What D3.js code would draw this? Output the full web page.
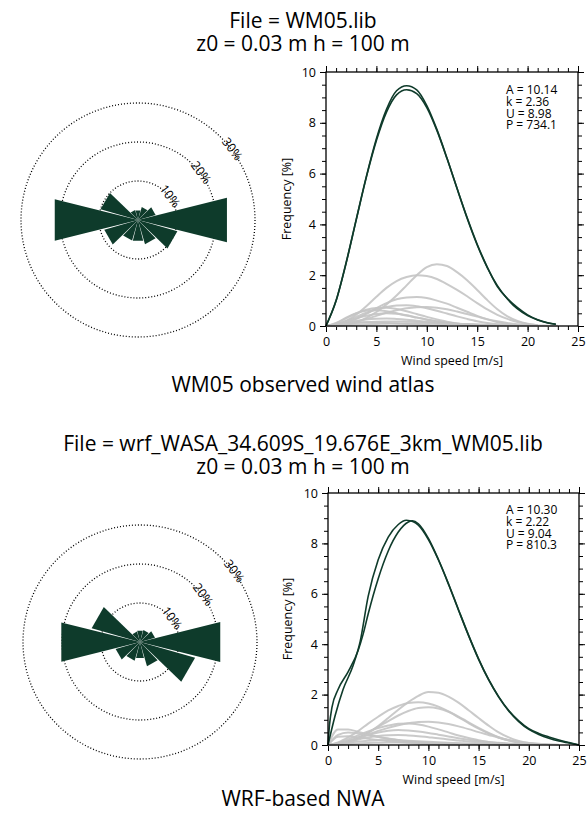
<!DOCTYPE html>
<html lang="en">
<head>
<meta charset="utf-8">
<title>WM05 observed wind atlas vs WRF-based NWA</title>
<script src="https://cdn.jsdelivr.net/npm/d3@7"></script>
<style>
  body { margin: 0; background: #fff; font-family: 'Open Sans', sans-serif; }
  svg { display: block; }
  text { fill: #000; font-family: 'Open Sans', sans-serif; }
  text.title { font-size: 21px; }
  text.small, .axis text { font-size: 12.5px; }
  text.stat { font-size: 12px; }
  .axis line { stroke: #000; stroke-width: 1; }
  .frame { fill: none; stroke: #000; stroke-width: 1.3; }
  .ring { fill: none; stroke: #000; stroke-width: 1.3; stroke-dasharray: 1 2; }
  .sector { fill: #0e3b2b; stroke: none; }
  .grey { fill: none; stroke: #c4c4c4; stroke-width: 2; stroke-opacity: 0.9; }
  .dark { fill: none; stroke: #0f3b2b; stroke-width: 1.6; }
</style>
</head>
<body>
<svg id="chart" width="588" height="813"></svg>
<script>
// ---- data ----
const directions = [0, 30, 60, 90, 120, 150, 180, 210, 240, 270, 300, 330];
const roseTop    = [2.5, 3.5, 4.7, 23.5, 10.5, 6.5, 5.5, 5.5, 9, 22, 10, 2.7];
const roseBottom = [3, 3.2, 4, 21.2, 14.7, 6.5, 4.2, 5, 6.5, 20.8, 12.9, 2.8];
const ringLevels = [10, 20, 30];

const speedTicks = [0, 5, 10, 15, 20, 25];
const freqTicks = [0, 2, 4, 6, 8, 10];
const speeds = [0, 1, 2, 3, 4, 5, 6, 7, 8, 9, 10, 11, 12, 13, 14, 15, 16, 17, 18, 19, 20, 21, 22, 23, 24, 25];

const statsTop = ['A = 10.14', 'k = 2.36', 'U = 8.98', 'P = 734.1'];
const statsBottom = ['A = 10.30', 'k = 2.22', 'U = 9.04', 'P = 810.3'];

// dark curves: [speed, frequency]
const fitTop = [[0,0],[1,0.99],[2,2.5],[3,4.2],[4,5.88],[5,7.37],[6,8.53],[7,9.26],[8,9.46],[9,9.3],[10,8.68],[11,7.74],[12,6.61],[13,5.41],[14,4.24],[15,3.19],[16,2.3],[17,1.59],[18,1.06],[19,0.67],[20,0.41],[21,0.24],[22,0.12],[22.8,0.07]];
const totalTop = [[0,0],[1,1.0],[2,2.48],[3,4.18],[4,5.85],[5,7.3],[6,8.42],[7,9.1],[8,9.3],[9,9.15],[10,8.6],[11,7.7],[12,6.6],[13,5.42],[14,4.27],[15,3.22],[16,2.32],[17,1.55],[18,1.08],[19,0.72],[20,0.44],[21,0.25],[22,0.13],[22.8,0.07]];
const fitBottom = [[0,0],[0.7,1.15],[1.5,2.2],[2.5,3.15],[3.2,4.1],[4,5.9],[5,7.35],[6,8.25],[7,8.75],[7.8,8.92],[8.5,8.86],[9,8.72],[10,8.15],[11,7.34],[12,6.38],[13,5.35],[14,4.34],[15,3.4],[16,2.58],[17,1.9],[18,1.35],[19,0.93],[20,0.62],[21,0.42],[22,0.27],[23,0.16],[24,0.08],[25,0]];
const totalBottom = [[0,0],[0.15,0.8],[0.4,1.5],[1,2.2],[2,2.9],[3,3.75],[3.5,4.4],[4,5.2],[5,6.6],[6,7.7],[7,8.45],[8,8.85],[8.4,8.9],[9,8.78],[10,8.2],[11,7.36],[12,6.4],[13,5.37],[14,4.36],[15,3.42],[16,2.6],[17,1.92],[18,1.37],[19,0.96],[20,0.65],[21,0.46],[22,0.32],[23,0.2],[24,0.1],[25,0]];

// grey sector curves: frequency at speeds[0], speeds[1], ...
const sectorsTop = [
  [0, 0.01, 0.06, 0.15, 0.32, 0.55, 0.85, 1.2, 1.6, 2.0, 2.32, 2.43, 2.36, 2.12, 1.8, 1.42, 1.02, 0.66, 0.38, 0.2, 0.09, 0.03],
  [0, 0.05, 0.2, 0.45, 0.78, 1.15, 1.5, 1.77, 1.93, 2.0, 1.97, 1.85, 1.65, 1.42, 1.17, 0.9, 0.65, 0.44, 0.28, 0.16, 0.08, 0.03],
  [0, 0.03, 0.12, 0.28, 0.48, 0.7, 0.9, 1.05, 1.12, 1.14, 1.1, 1.0, 0.88, 0.72, 0.56, 0.4, 0.26, 0.15, 0.08, 0.03],
  [0, 0.06, 0.2, 0.36, 0.52, 0.65, 0.75, 0.81, 0.82, 0.78, 0.7, 0.6, 0.49, 0.38, 0.28, 0.19, 0.12, 0.07, 0.03],
  [0, 0.02, 0.08, 0.17, 0.28, 0.4, 0.52, 0.62, 0.7, 0.74, 0.75, 0.72, 0.66, 0.57, 0.47, 0.37, 0.27, 0.19, 0.12, 0.07, 0.04, 0.02],
  [0, 0.1, 0.3, 0.5, 0.64, 0.71, 0.72, 0.67, 0.58, 0.47, 0.36, 0.26, 0.17, 0.1, 0.06, 0.03],
  [0, 0.12, 0.33, 0.5, 0.6, 0.62, 0.58, 0.5, 0.41, 0.33, 0.25, 0.19, 0.14, 0.1, 0.07, 0.05, 0.03, 0.02],
  [0, 0.06, 0.18, 0.3, 0.4, 0.47, 0.5, 0.48, 0.42, 0.34, 0.26, 0.18, 0.12, 0.07, 0.04, 0.02],
  [0, 0.05, 0.13, 0.21, 0.26, 0.29, 0.3, 0.28, 0.25, 0.21, 0.17, 0.13, 0.1, 0.07, 0.05, 0.03, 0.02],
  [0, 0.03, 0.08, 0.12, 0.15, 0.17, 0.18, 0.18, 0.17, 0.16, 0.14, 0.12, 0.1, 0.08, 0.07, 0.05, 0.04, 0.03, 0.02, 0.01],
  [0, 0.04, 0.1, 0.14, 0.15, 0.14, 0.12, 0.1, 0.08, 0.06, 0.04, 0.03, 0.02],
  [0, 0.01, 0.03, 0.05, 0.07, 0.08, 0.09, 0.1, 0.1, 0.1, 0.1, 0.09, 0.09, 0.08, 0.07, 0.06, 0.05, 0.05, 0.04, 0.03, 0.02, 0.02, 0.01, 0.01]
];
const sectorsBottom = [
  [0, 0.03, 0.12, 0.27, 0.48, 0.75, 1.07, 1.4, 1.7, 1.95, 2.1, 2.07, 1.92, 1.68, 1.38, 1.07, 0.77, 0.5, 0.3, 0.16, 0.08, 0.03],
  [0, 0.1, 0.3, 0.55, 0.85, 1.12, 1.37, 1.55, 1.67, 1.7, 1.65, 1.52, 1.33, 1.1, 0.87, 0.65, 0.46, 0.3, 0.18, 0.1, 0.05, 0.02],
  [0, 0.04, 0.14, 0.3, 0.5, 0.72, 0.95, 1.17, 1.35, 1.47, 1.5, 1.45, 1.32, 1.13, 0.9, 0.68, 0.48, 0.31, 0.19, 0.1, 0.05, 0.02],
  [0, 0.05, 0.15, 0.28, 0.42, 0.56, 0.68, 0.78, 0.86, 0.91, 0.92, 0.89, 0.83, 0.74, 0.63, 0.51, 0.4, 0.29, 0.2, 0.13, 0.08, 0.05, 0.03, 0.01],
  [0, 0.08, 0.22, 0.38, 0.54, 0.67, 0.77, 0.84, 0.85, 0.81, 0.73, 0.62, 0.5, 0.38, 0.28, 0.19, 0.12, 0.07, 0.04, 0.02],
  [0, 0.62, 0.62, 0.52, 0.42, 0.33, 0.25, 0.19, 0.14, 0.1, 0.07, 0.05, 0.03, 0.02],
  [0, 0.4, 0.5, 0.46, 0.39, 0.32, 0.26, 0.2, 0.15, 0.11, 0.08, 0.05, 0.03],
  [0, 0.33, 0.35, 0.3, 0.25, 0.2, 0.16, 0.12, 0.09, 0.06, 0.04, 0.02],
  [0, 0.05, 0.15, 0.27, 0.4, 0.5, 0.57, 0.6, 0.58, 0.54, 0.48, 0.41, 0.34, 0.27, 0.21, 0.16, 0.12, 0.09, 0.06, 0.04, 0.03, 0.02],
  [0, 0.05, 0.13, 0.22, 0.3, 0.36, 0.39, 0.4, 0.38, 0.35, 0.31, 0.27, 0.22, 0.18, 0.14, 0.11, 0.08, 0.06, 0.04, 0.03, 0.02],
  [0, 0.04, 0.09, 0.14, 0.17, 0.19, 0.2, 0.19, 0.17, 0.15, 0.13, 0.11, 0.09, 0.07, 0.05, 0.04, 0.03, 0.02, 0.01],
  [0, 0.02, 0.04, 0.06, 0.08, 0.09, 0.1, 0.1, 0.1, 0.09, 0.09, 0.08, 0.07, 0.06, 0.05, 0.04, 0.04, 0.03, 0.02, 0.02, 0.01]
];

const svg = d3.select('#chart');
const halfWidth = 14; // degrees either side of the sector direction
const centreX = 303;

function drawRose(cx, cy, rMax, values) {
  const r = d3.scaleLinear().domain([0, 30]).range([0, rMax]);
  const g = svg.append('g').attr('transform', `translate(${cx},${cy})`);
  const rad = Math.PI / 180;

  g.selectAll('circle.ring').data(ringLevels).join('circle')
    .attr('class', 'ring')
    .attr('r', d => r(d));

  const wedge = d3.lineRadial().curve(d3.curveLinearClosed);
  g.selectAll('path.sector').data(directions).join('path')
    .attr('class', 'sector')
    .attr('d', (d, i) => wedge([[0, 0], [(d - halfWidth) * rad, r(values[i])], [(d + halfWidth) * rad, r(values[i])]]));

  const labelAngle = 53;
  g.selectAll('text.ringlabel').data(ringLevels).join('text')
    .attr('class', 'small ringlabel')
    .attr('text-anchor', 'middle')
    .attr('dy', '0.35em')
    .attr('transform', d => {
      const rr = r(d) + 1;
      const px = rr * Math.sin(labelAngle * rad), py = -rr * Math.cos(labelAngle * rad);
      return `translate(${px},${py}) rotate(${labelAngle})`;
    })
    .text(d => d + '%');
}

function drawPlot(p, fit, total, sectors, stats) {
  const w = p.x1 - p.x0, h = p.y1 - p.y0;
  const x = d3.scaleLinear().domain([0, 25]).range([0, w]);
  const y = d3.scaleLinear().domain([0, 10]).range([h, 0]);
  const g = svg.append('g').attr('transform', `translate(${p.x0},${p.y0})`);

  // ticks: minor every 1 m/s and 0.5 %, major with labels
  const addAxis = (axis, t) => g.append('g').attr('class', 'axis').attr('transform', t || null).call(axis);
  addAxis(d3.axisBottom(x).tickValues(x.ticks(25)).tickSize(4).tickSizeOuter(0).tickFormat(''), `translate(0,${h})`);
  addAxis(d3.axisBottom(x).tickValues(speedTicks).tickSize(6).tickSizeOuter(0).tickPadding(5.5), `translate(0,${h})`);
  addAxis(d3.axisTop(x).tickValues(x.ticks(25)).tickSize(4).tickSizeOuter(0).tickFormat(''));
  addAxis(d3.axisTop(x).tickValues(speedTicks).tickSize(6).tickSizeOuter(0).tickFormat(''));
  addAxis(d3.axisLeft(y).tickValues(y.ticks(20)).tickSize(4).tickSizeOuter(0).tickFormat(''));
  addAxis(d3.axisLeft(y).tickValues(freqTicks).tickSize(6).tickSizeOuter(0).tickPadding(4));
  addAxis(d3.axisRight(y).tickValues(y.ticks(20)).tickSize(4).tickSizeOuter(0).tickFormat(''), `translate(${w},0)`);
  addAxis(d3.axisRight(y).tickValues(freqTicks).tickSize(6).tickSizeOuter(0).tickFormat(''), `translate(${w},0)`);
  g.selectAll('.axis .domain').remove();

  const greyLine = d3.line()
    .x((d, i) => x(speeds[i]))
    .y(d => y(d))
    .curve(d3.curveMonotoneX);
  g.selectAll('path.grey').data(sectors).join('path')
    .attr('class', 'grey')
    .attr('d', greyLine);

  const darkLine = d3.line()
    .x(d => x(d[0]))
    .y(d => y(d[1]))
    .curve(d3.curveMonotoneX);
  g.selectAll('path.dark').data([fit, total]).join('path')
    .attr('class', 'dark')
    .attr('d', darkLine);

  g.append('rect').attr('class', 'frame').attr('width', w).attr('height', h);

  // stats block as one text with four lines
  g.append('text')
    .attr('class', 'stat')
    .attr('y', p.statY - p.y0)
    .selectAll('tspan').data(stats).join('tspan')
    .attr('x', p.statX - p.x0)
    .attr('dy', (d, i) => i === 0 ? 0 : 11.8)
    .text(d => d);

  g.append('text')
    .attr('class', 'small')
    .attr('text-anchor', 'middle')
    .attr('x', w / 2)
    .attr('y', h + 39)
    .text('Wind speed [m/s]');

  g.append('text')
    .attr('class', 'small')
    .attr('text-anchor', 'middle')
    .attr('transform', `translate(${p.freqLabelX - p.x0},${h / 2}) rotate(-90)`)
    .attr('dy', '0.35em')
    .text('Frequency [%]');
}

function titleLines(lines, baselines) {
  lines.forEach((t, i) => {
    svg.append('text')
      .attr('class', 'title')
      .attr('text-anchor', 'middle')
      .attr('x', centreX)
      .attr('y', baselines[i])
      .text(t);
  });
}

// top panel
titleLines(['File = WM05.lib', 'z0 = 0.03 m h = 100 m'], [27.5, 50.5]);
drawRose(138, 220, 117, roseTop);
drawPlot({ x0: 326, x1: 578, y0: 72, y1: 326, statX: 506, statY: 94, freqLabelX: 287 },
  fitTop, totalTop, sectorsTop, statsTop);
titleLines(['WM05 observed wind atlas'], [392]);

// bottom panel
titleLines(['File = wrf_WASA_34.609S_19.676E_3km_WM05.lib', 'z0 = 0.03 m h = 100 m'], [450.5, 473.5]);
drawRose(140, 642, 117, roseBottom);
drawPlot({ x0: 328, x1: 579, y0: 493, y1: 745, statX: 506, statY: 514, freqLabelX: 288 },
  fitBottom, totalBottom, sectorsBottom, statsBottom);
titleLines(['WRF-based NWA'], [806]);
</script>
</body>
</html>
